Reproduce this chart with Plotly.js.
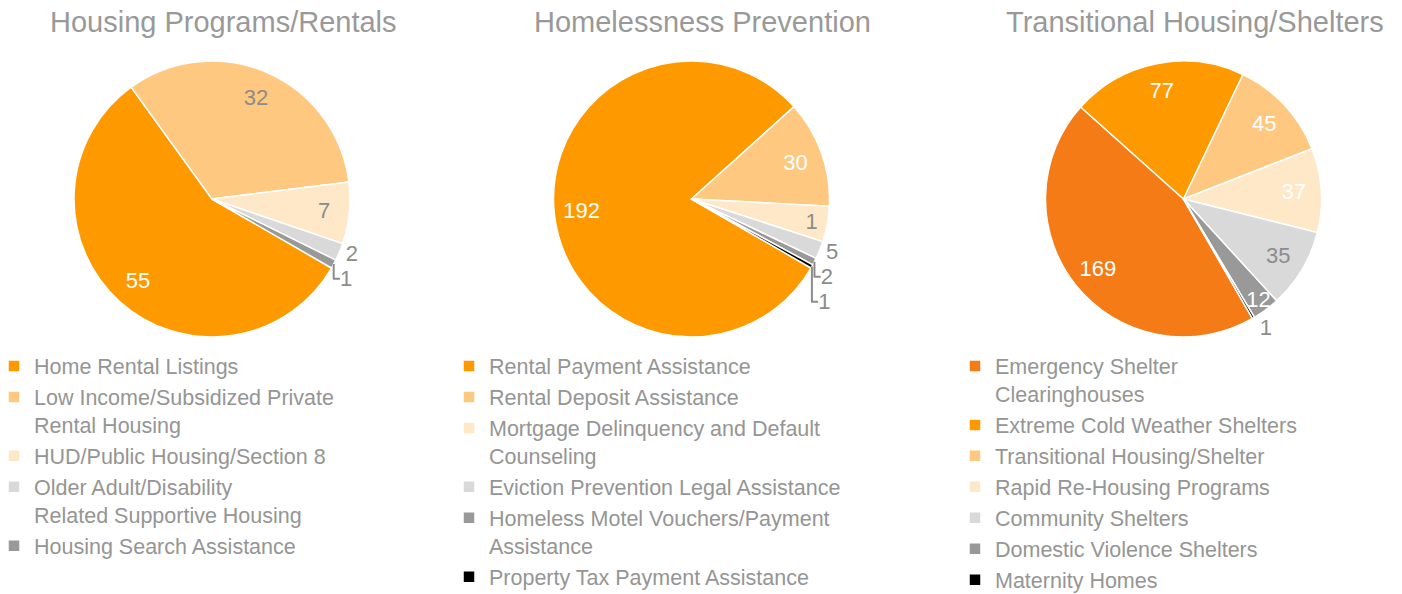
<!DOCTYPE html>
<html>
<head>
<meta charset="utf-8">
<script src="https://cdn.plot.ly/plotly-3.0.1.min.js"></script>
<style>html,body{margin:0;padding:0;background:#fff;}#chart{width:1402px;height:594px;}</style>
</head>
<body>
<div id="chart"></div>
<script>
// ---- data ----
const titles = ['Housing Programs/Rentals', 'Homelessness Prevention', 'Transitional Housing/Shelters'];

const p1Labels = ['Home Rental Listings', 'Low Income/Subsidized Private<br>Rental Housing', 'HUD/Public Housing/Section 8', 'Older Adult/Disability<br>Related Supportive Housing', 'Housing Search Assistance'];
const p1Values = [55, 32, 7, 2, 1];

const p2Labels = ['Rental Payment Assistance', 'Rental Deposit Assistance', 'Mortgage Delinquency and Default<br>Counseling', 'Eviction Prevention Legal Assistance', 'Homeless Motel Vouchers/Payment<br>Assistance', 'Property Tax Payment Assistance'];
const p2Values = [192, 30, 10, 5, 2, 1];
const p2Printed = ['192', '30', '1', '5', '2', '1'];

const p3Labels = ['Emergency Shelter<br>Clearinghouses', 'Extreme Cold Weather Shelters', 'Transitional Housing/Shelter', 'Rapid Re-Housing Programs', 'Community Shelters', 'Domestic Violence Shelters', 'Maternity Homes'];
const p3Values = [169, 77, 45, 37, 35, 12, 1];

// ---- styles ----
const ORANGE = '#FF9900', DKORANGE = '#F47B16', LTORANGE = '#FFC880', PALE = '#FFE8C8', LTGRAY = '#D9D9D9', GRAY = '#999999', BLACK = '#000000';
const W = '#FFFFFF', G = '#8C8C8C';
const FONT = 'Liberation Sans, Arial, sans-serif';

const p1Colors = [ORANGE, LTORANGE, PALE, LTGRAY, GRAY];
const p2Colors = [ORANGE, LTORANGE, PALE, LTGRAY, GRAY, BLACK];
const p3Colors = [DKORANGE, ORANGE, LTORANGE, PALE, LTGRAY, GRAY, BLACK];

const p1TextColors = [W, G, G, G, G];
const p2TextColors = [W, W, G, G, G, G];
const p3TextColors = [W, W, W, W, G, W, G];

const p1Pos = ['inside', 'inside', 'inside', 'outside', 'outside'];
const p2Pos = ['inside', 'inside', 'inside', 'outside', 'outside', 'outside'];
const p3Pos = ['inside', 'inside', 'inside', 'inside', 'inside', 'inside', 'outside'];

const W_PX = 1402, H_PX = 594;
const yDom = [1 - 337 / H_PX, 1 - 61 / H_PX];
function xDom(cx) { return [(cx - 138) / W_PX, (cx + 138) / W_PX]; }
const domains = [xDom(212), xDom(691.5), xDom(1183.5)];
const rotations = [120, 120, 150];

function mainPie(labels, values, colors, dom, rot, legendId) {
  return {
    type: 'pie', labels: labels, values: values, sort: false, direction: 'clockwise',
    rotation: rot, domain: {x: dom, y: yDom}, textinfo: 'none',
    marker: {colors: colors, line: {color: '#FFFFFF', width: 1.5}},
    legend: legendId, showlegend: true
  };
}
function labelRing(labels, values, dom, rot, pos, tcolors, text) {
  const t = {
    type: 'pie', labels: labels, values: values, sort: false, direction: 'clockwise',
    rotation: rot, domain: {x: dom, y: yDom}, hole: 0.6,
    marker: {colors: values.map(() => 'rgba(0,0,0,0)'), line: {width: 0}},
    textposition: pos, insidetextorientation: 'horizontal',
    textfont: {family: FONT, size: 22, color: tcolors},
    outsidetextfont: {family: FONT, size: 22, color: G},
    hoverinfo: 'skip', showlegend: false
  };
  if (text) { t.text = text; t.texttemplate = '%{text}'; } else { t.texttemplate = '%{value}'; }
  return t;
}

const data = [
  mainPie(p1Labels, p1Values, p1Colors, domains[0], rotations[0], 'legend'),
  mainPie(p2Labels, p2Values, p2Colors, domains[1], rotations[1], 'legend2'),
  mainPie(p3Labels, p3Values, p3Colors, domains[2], rotations[2], 'legend3'),
  labelRing(p1Labels, p1Values, domains[0], rotations[0], p1Pos, p1TextColors),
  labelRing(p2Labels, p2Values, domains[1], rotations[1], p2Pos, p2TextColors, p2Printed),
  labelRing(p3Labels, p3Values, domains[2], rotations[2], p3Pos, p3TextColors)
];

const legendBase = {
  yref: 'paper', xref: 'paper', y: 1 - 345.5 / H_PX, yanchor: 'top', xanchor: 'left',
  bgcolor: 'rgba(0,0,0,0)', borderwidth: 0, traceorder: 'normal', valign: 'top',
  font: {family: FONT, size: 21.5, color: '#959595'}
};

const layout = {
  width: W_PX, height: H_PX,
  margin: {l: 0, r: 0, t: 0, b: 0, autoexpand: false},
  paper_bgcolor: '#FFFFFF', plot_bgcolor: '#FFFFFF',
  uniformtext: {mode: 'show', minsize: 22},
  legend: Object.assign({}, legendBase, {x: -6 / W_PX}),
  legend2: Object.assign({}, legendBase, {x: 449 / W_PX}),
  legend3: Object.assign({}, legendBase, {x: 955 / W_PX}),
  annotations: titles.map((t, i) => ({
    text: t, showarrow: false, xref: 'paper', yref: 'paper',
    x: [223.5, 702.5, 1194.5][i] / W_PX, y: 1 - 22 / H_PX, xanchor: 'center', yanchor: 'middle',
    font: {family: FONT, size: 29, color: '#999999'}
  }))
};

Plotly.newPlot('chart', data, layout, {displayModeBar: false, responsive: false});
</script>
</body>
</html>
